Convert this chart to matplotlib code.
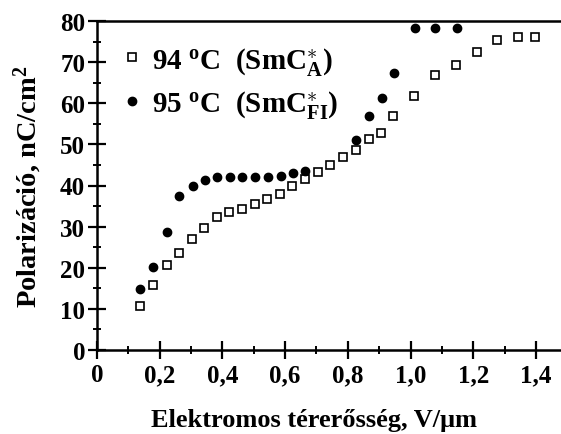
import matplotlib
matplotlib.use("Agg")
import matplotlib.pyplot as plt
from matplotlib.ticker import MultipleLocator, FuncFormatter

# data
e_94 = [0.137, 0.18, 0.222, 0.262, 0.302, 0.342, 0.382, 0.422, 0.463, 0.503, 0.543,
        0.584, 0.623, 0.664, 0.705, 0.743, 0.786, 0.825, 0.866, 0.905, 0.945,
        1.011, 1.078, 1.144, 1.211, 1.277, 1.344, 1.397]
p_94 = [10.8, 15.8, 20.6, 23.6, 27.0, 29.7, 32.3, 33.6, 34.4, 35.4, 36.6,
        38.0, 40.0, 41.5, 43.4, 45.1, 46.9, 48.6, 51.2, 52.8, 56.9,
        61.8, 66.8, 69.4, 72.5, 75.4, 76.2, 76.2]

e_95 = [0.137, 0.18, 0.222, 0.262, 0.305, 0.344, 0.384, 0.424, 0.464, 0.504, 0.545,
        0.586, 0.625, 0.665, 0.826, 0.868, 0.908, 0.948, 1.014, 1.078, 1.147]
p_95 = [14.9, 20.2, 28.6, 37.4, 40.0, 41.3, 42.0, 42.0, 42.0, 42.0, 42.1,
        42.3, 43.1, 43.5, 51.0, 56.9, 61.2, 67.3, 78.2, 78.4, 78.4]

label_94 = '94 $^{\\rm o}$C  (SmC$^{\\ast}_{\\rm A}$)'
label_95 = '95 $^{\\rm o}$C  (SmC$^{\\ast}_{\\rm FI}$)'

plt.rcParams['font.family'] = ['Liberation Serif']
plt.rcParams['font.weight'] = 'bold'
plt.rcParams['mathtext.fontset'] = 'custom'
plt.rcParams['mathtext.rm'] = 'Liberation Serif:bold'
plt.rcParams['mathtext.it'] = 'Liberation Serif:italic:bold'
plt.rcParams['mathtext.bf'] = 'Liberation Serif:bold'

fig = plt.figure(figsize=(5.61, 4.35), dpi=100)
ax = fig.add_axes([97 / 561, 1 - 351 / 435, 1 - 97 / 561, (351 - 22) / 435])

ax.plot(e_94, p_94, ls='none', marker='s', ms=6, mfc='white', mec='black', mew=1.2,
        label=label_94)
ax.plot(e_95, p_95, ls='none', marker='o', ms=6, mfc='black', mec='black',
        label=label_95)

ax.set_xlim(0, 1.48)
ax.set_ylim(0, 80)
ax.spines['right'].set_visible(False)
for s in ['left', 'bottom', 'top']:
    ax.spines[s].set_linewidth(1.8)


def fmt(v, p):
    if abs(v) < 1e-9:
        return '0'
    return ('%.1f' % v).replace('.', ',')


ax.xaxis.set_major_locator(MultipleLocator(0.2))
ax.xaxis.set_minor_locator(MultipleLocator(0.1))
ax.yaxis.set_major_locator(MultipleLocator(10))
ax.yaxis.set_minor_locator(MultipleLocator(5))
ax.xaxis.set_major_formatter(FuncFormatter(fmt))
ax.tick_params(which='major', direction='inout', length=13, width=1.6, labelsize=18, pad=2)
ax.tick_params(which='minor', direction='inout', length=6, width=1.4)
ax.tick_params(axis='x', which='major', pad=3)

ax.set_xlabel('Elektromos térerősség, V/μm', fontsize=19, fontweight='bold')
ax.set_ylabel('Polarizáció, nC/cm$^{\\rm 2}$', fontsize=20.5, fontweight='bold')
ax.xaxis.set_label_coords(0.468, -0.175)
ax.yaxis.set_label_coords(-0.114, 0.5)

ax.legend(loc='upper left', bbox_to_anchor=(0.0, 0.99), frameon=False, fontsize=21,
          handlelength=1.0, handletextpad=0.2, labelspacing=0.4, borderaxespad=0.3)

fig.savefig('out.png', dpi=100)
